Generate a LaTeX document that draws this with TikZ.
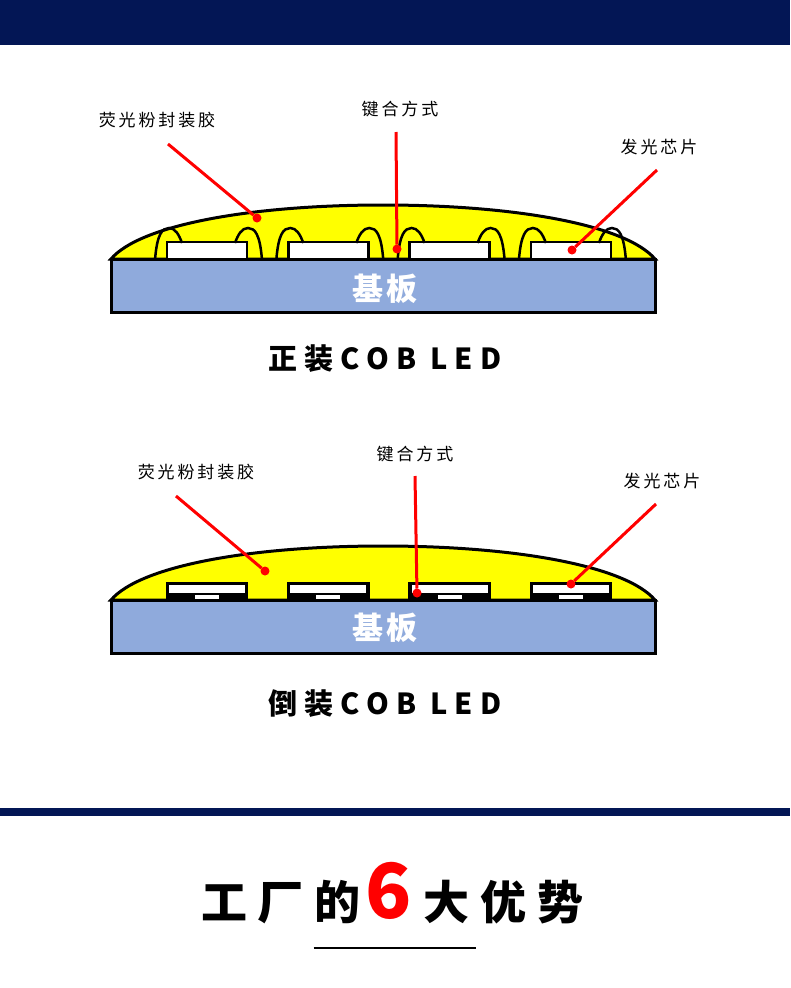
\documentclass[tikz,border=0pt]{standalone}
\usepackage{fontspec}
\setmainfont{Noto Sans CJK SC}
\newfontfamily\calloutfont[LetterSpace=17]{Noto Sans CJK SC}
\newfontfamily\captionfont[LetterSpace=25]{Noto Sans CJK SC}
\newfontfamily\baseboxfont[LetterSpace=12]{Noto Sans CJK SC}
\newfontfamily\headfont[LetterSpace=23]{Noto Sans CJK SC}
\definecolor{navybar}{RGB}{3,22,85}
\definecolor{boardblue}{RGB}{143,170,220}
\definecolor{phosphor}{RGB}{255,255,0}
\begin{document}
\begin{tikzpicture}[
        x=1pt, y=-1pt,
        node distance=121.3pt,
        every node/.style={inner sep=0pt, outer sep=0pt},
        chipbox/.style={draw, line width=2.5pt, fill=white, minimum width=80pt, minimum height=17pt},
        flipbox/.style={draw, line width=2.5pt, fill=black, minimum width=80pt, minimum height=17pt},
        board/.style={draw, line width=3pt, fill=boardblue, minimum width=544pt, minimum height=53pt},
        boardtext/.style={text=white, font=\baseboxfont\bfseries\fontsize{31pt}{34pt}\selectfont},
        callout/.style={font=\calloutfont\fontsize{17pt}{20pt}\selectfont},
        caption/.style={font=\captionfont\bfseries\fontsize{29pt}{34pt}\selectfont},
        head/.style={font=\headfont\bfseries\fontsize{46pt}{50pt}\selectfont},
        dome/.style={draw, line width=3pt, fill=phosphor},
        dot/.style={circle, fill=red, minimum size=9pt},
        leader/.style={draw, red, line width=3pt},
        bond/.pic={
            \draw[line width=2.5pt] (-52,9.5) .. controls (-50,-16) and (-45,-22.5) .. (-38,-22.5)
                .. controls (-32,-22.5) and (-28,-16) .. (-25,-7.5);
            \draw[line width=2.5pt] (28,-7.5) .. controls (31,-16) and (35,-22.5) .. (41,-22.5)
                .. controls (48,-22.5) and (53,-16) .. (55,9.5);
        },
        pads/.pic={
            \fill[white] (-38,-6.5) rectangle (38,1);
            \fill[white] (-12,3) rectangle (12,7);
        }
    ]
    \useasboundingbox (0,0) rectangle (790,988);
    \fill[navybar] (0,0) rectangle (790,45);
    \fill[navybar] (0,808) rectangle (790,816);

    % upper device
    \path[dome] (111,259) .. controls (140,225) and (250,205) .. (383,205)
        .. controls (516,205) and (626,225) .. (655,259) -- cycle;
    \node[chipbox] (A1) at (207,250.5) {};
    \node[chipbox, right of=A1] (A2) {};
    \node[chipbox, right of=A2] (A3) {};
    \node[chipbox, right of=A3] (A4) {};
    \pic at (A1) {bond};
    \pic at (A2) {bond};
    \pic at (A3) {bond};
    \pic at (A4) {bond};
    \node[board] (B1) at (383,285.5) {};
    \node[boardtext] (B1t) at (385,288.5) {基板};

    \node[callout] (P1) at (157,120) {荧光粉封装胶};
    \node[callout] (W1) at (400,109) {键合方式};
    \node[callout] (C1) at (659,147) {发光芯片};
    \coordinate (P1s) at (168,144);
    \coordinate (W1s) at (396,132);
    \coordinate (C1s) at (657,170);
    \node[dot] (P1d) at (257,218) {};
    \node[dot] (W1d) at (397,249) {};
    \node[dot] (C1d) at (572,250) {};
    \path[leader] (P1s) -- (P1d);
    \path[leader] (W1s) -- (W1d);
    \path[leader] (C1s) -- (C1d);
    \node[caption] (T1) at (385,359) {正装COB LED};

    % lower device
    \path[dome] (111,600) .. controls (140,566) and (250,546) .. (383,546)
        .. controls (516,546) and (626,566) .. (655,600) -- cycle;
    \node[flipbox] (F1) at (207,591.5) {};
    \node[flipbox, right of=F1] (F2) {};
    \node[flipbox, right of=F2] (F3) {};
    \node[flipbox, right of=F3] (F4) {};
    \pic at (F1) {pads};
    \pic at (F2) {pads};
    \pic at (F3) {pads};
    \pic at (F4) {pads};
    \node[board] (B2) at (383,627) {};
    \node[boardtext] (B2t) at (385,627.5) {基板};

    \node[callout] (P2) at (196,472) {荧光粉封装胶};
    \node[callout] (W2) at (415,454) {键合方式};
    \node[callout] (C2) at (662,481) {发光芯片};
    \coordinate (P2s) at (176,496);
    \coordinate (W2s) at (415,476);
    \coordinate (C2s) at (656,504);
    \node[dot] (P2d) at (265,571) {};
    \node[dot] (W2d) at (417,593) {};
    \node[dot] (C2d) at (571,584) {};
    \path[leader] (P2s) -- (P2d);
    \path[leader] (W2s) -- (W2d);
    \path[leader] (C2s) -- (C2d);
    \node[caption] (T2) at (385,704) {倒装COB LED};

    % closing headline
    \node[head] (H1) at (281,902) {工厂的};
    \node[text=red, font=\bfseries\fontsize{76pt}{80pt}\selectfont] (H2) at (389,891) {6};
    \node[head] (H3) at (503.5,902) {大优势};
    \node (R1) at (313,948) {};
    \node (R2) at (476,948) {};
    \draw[line width=2.5pt] (R1) -- (R2);
\end{tikzpicture}
\end{document}
